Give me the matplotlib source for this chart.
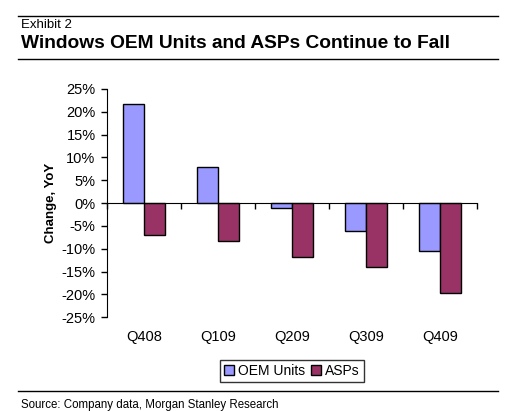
import numpy as np
import matplotlib.pyplot as plt
import matplotlib.transforms as mtransforms

plt.rcParams['font.family'] = ['Liberation Sans', 'DejaVu Sans']

quarters = ['Q408', 'Q109', 'Q209', 'Q309', 'Q409']
oem_units = [21.7, 7.9, -1.0, -6.1, -10.5]
asps = [-7.0, -8.3, -11.8, -14.0, -19.7]
yticks = list(range(-25, 30, 5))

fig = plt.figure(figsize=(5.09, 4.11), dpi=100)
ax = fig.add_axes([0.2096, 0.228, 0.7274, 0.5555])

x = np.arange(len(quarters))
w = 0.285
ax.bar(x - w / 2, oem_units, w, color='#9999FF', edgecolor='black', linewidth=1.0, label='OEM Units', zorder=3)
ax.bar(x + w / 2, asps, w, color='#993366', edgecolor='black', linewidth=1.0, label='ASPs', zorder=3)

ax.set_xlim(-0.5, len(quarters) - 0.5)
ax.set_ylim(-25, 25)
ax.set_yticks(yticks)
ax.set_yticklabels(['%d%%' % v for v in yticks], fontsize=10.5)
ax.tick_params(axis='y', direction='out', length=4, width=1, pad=4)

for s in ['top', 'right']:
    ax.spines[s].set_visible(False)
ax.spines['bottom'].set_position(('data', 0))
ax.spines['bottom'].set_zorder(4)
ax.set_xticks(np.arange(-0.5, len(quarters), 1.0))
ax.set_xticklabels([])
ax.tick_params(axis='x', direction='out', length=4, width=1)

# category labels sit below the plot, not at the zero line
trans = mtransforms.blended_transform_factory(ax.transData, ax.transAxes)
for i, q in enumerate(quarters):
    ax.text(i, -0.0876, q, transform=trans, ha='center', va='center', fontsize=10.5)

ax.set_ylabel('Change, YoY', fontsize=9.5, fontweight='bold')
ax.yaxis.set_label_coords(-0.134, 0.5)

leg = ax.legend(loc='center', bbox_to_anchor=(0.5, -0.235), ncol=2, frameon=True, fancybox=False,
                fontsize=10, handlelength=0.7, handleheight=0.7, handletextpad=0.3, columnspacing=0.4,
                borderpad=0.3, borderaxespad=0)
leg.get_frame().set_edgecolor('black')
leg.get_frame().set_linewidth(1.0)

# header / footer
fig.add_artist(plt.Line2D([18 / 509, 498 / 509], [1 - 16 / 411, 1 - 16 / 411], color='black', linewidth=1))
fig.add_artist(plt.Line2D([18 / 509, 498 / 509], [1 - 59 / 411, 1 - 59 / 411], color='black', linewidth=1))
fig.add_artist(plt.Line2D([18 / 509, 498 / 509], [1 - 391 / 411, 1 - 391 / 411], color='black', linewidth=1))
fig.text(21 / 509, 1 - 25 / 411, 'Exhibit 2', fontsize=9.5, va='center', ha='left')
fig.text(21 / 509, 1 - 44 / 411, 'Windows OEM Units and ASPs Continue to Fall', fontsize=13.8, fontweight='bold',
         va='center', ha='left')
fig.text(21 / 509, 1 - 405 / 411, 'Source: Company data, Morgan Stanley Research', fontsize=8.3, va='center', ha='left')

fig.savefig('out.png', dpi=100)
